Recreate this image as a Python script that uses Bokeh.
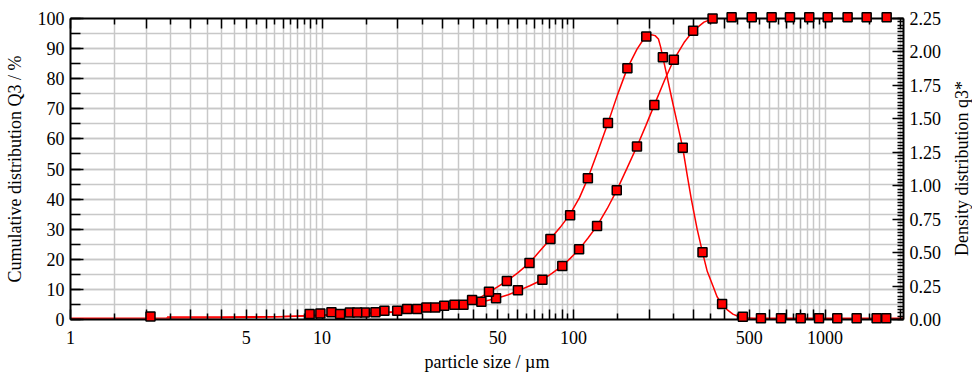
import math
from bokeh.plotting import figure
from bokeh.models import (FixedTicker, SingleIntervalTicker, LinearAxis, LogAxis,
                          Range1d, CustomJSTickFormatter, PrintfTickFormatter, Label)
from bokeh.embed import file_html
from bokeh.resources import INLINE

FONT = "Liberation Serif"

# ---------------- data ----------------
# cumulative distribution Q3 (%) markers
q3_x = [2.08, 8.93, 10.9, 12.9, 14.8, 17.7, 21.8, 26.0, 30.6, 36.5, 43.0, 49.2, 60.1,
        75.2, 90.2, 105.2, 124, 148.5, 178.7, 209.5, 250.4, 298.8, 357, 425, 511, 613,
        725, 865, 1024, 1229, 1463, 1757]
q3_val = [1.0, 1.8, 2.4, 2.3, 2.3, 2.9, 3.5, 4.0, 4.6, 4.9, 5.9, 7.1, 9.7,
          13.2, 17.8, 23.3, 31.1, 42.9, 57.5, 71.3, 86.3, 95.9, 100.0, 100.4, 100.4, 100.4,
          100.4, 100.4, 100.4, 100.4, 100.4, 100.4]

# density distribution q3* markers
dens_x = [9.85, 11.8, 13.8, 16.3, 19.9, 23.9, 28.2, 33.6, 39.5, 46.1, 54.3, 66.8, 80.9,
          96.9, 114, 137, 163.7, 194.6, 226.5, 271.7, 325.6, 389.6, 471, 556, 668, 800,
          946, 1118, 1335, 1603, 1750]
dens_val = [0.045, 0.041, 0.052, 0.054, 0.065, 0.079, 0.090, 0.110, 0.146, 0.207, 0.288,
            0.423, 0.601, 0.779, 1.055, 1.469, 1.879, 2.115, 1.960, 1.283, 0.502, 0.115,
            0.020, 0.009, 0.009, 0.009, 0.009, 0.009, 0.009, 0.009, 0.009]

# fitted curve of Q3 (%), as traced
q3_line_x = [2.42, 4, 7, 10, 15, 20, 25, 30, 35, 40, 45, 49.2, 55, 60.1, 67, 75.2, 82,
             90.2, 97, 105.2, 114, 124, 136, 148.5, 163, 178.7, 194, 209.5, 230, 250.4,
             275, 298.8, 330, 357, 400, 2050]
q3_line_val = [0.8, 0.8, 1.0, 1.4, 2.0, 2.6, 3.2, 3.9, 4.6, 5.3, 6.2, 7.0, 8.2, 9.5, 11.2,
               13.2, 15.3, 17.8, 20.3, 23.3, 27.0, 31.1, 36.8, 42.9, 50.2, 57.5, 64.5,
               71.3, 79.5, 86.3, 92.0, 95.9, 98.8, 99.9, 100.3, 100.3]

# fitted curve of q3*, as traced
dens_line_x = [1.0, 2.4, 4.0, 6.0, 8.0, 10, 15, 20, 25, 30, 35, 40, 46.1, 54.3, 60, 66.8,
               73, 80.9, 88.5, 96.9, 105.6, 114, 125, 137, 149.6, 163.7, 178.8, 190, 197,
               204, 211, 217.5, 222, 226.5, 235, 245.6, 258, 271.7, 283, 294, 310, 325.6,
               340, 358, 372, 389.6, 410, 430, 450, 470, 520, 2050]
dens_line_val = [0.009, 0.011, 0.014, 0.018, 0.025, 0.032, 0.045, 0.056, 0.070, 0.086,
                 0.106, 0.135, 0.203, 0.288, 0.349, 0.423, 0.506, 0.601, 0.689, 0.788,
                 0.911, 1.055, 1.260, 1.469, 1.681, 1.879, 2.021, 2.097, 2.122, 2.129,
                 2.122, 2.097, 2.036, 1.960, 1.823, 1.654, 1.474, 1.283, 1.080, 0.898,
                 0.675, 0.502, 0.360, 0.252, 0.170, 0.115, 0.070, 0.040, 0.024, 0.014,
                 0.009, 0.009]

# axis ticks
x_major_ticks = [1, 2, 3, 4, 5, 6, 7, 8, 9, 10, 20, 30, 40, 50, 60, 70, 80, 90,
                 100, 200, 300, 400, 500, 600, 700, 800, 900, 1000, 2000]
x_minor_ticks = [1.5, 2.5, 3.5, 4.5, 5.5, 6.5, 7.5, 8.5, 9.5,
                 15, 25, 35, 45, 55, 65, 75, 85, 95,
                 150, 250, 350, 450, 550, 650, 750, 850, 950, 1500]
x_labeled = [1, 5, 10, 50, 100, 500, 1000]

# ---------------- figure ----------------
W, H = 972, 374
ML, MR, MT, MB = 70, 69, 18, 54
p = figure(width=W, height=H, x_axis_type="log",
           x_range=Range1d(1, 2050), y_range=Range1d(0, 100),
           output_backend="svg", toolbar_location=None,
           min_border_left=ML, min_border_right=MR, min_border_top=MT,
           min_border_bottom=MB,
           x_axis_label="particle size / µm",
           y_axis_label="Cumulative distribution Q3 / %")
p.extra_y_ranges = {"q3": Range1d(0, 2.25)}
p.outline_line_color = None
p.background_fill_color = "white"
p.border_fill_color = "white"

xt = FixedTicker(ticks=x_major_ticks, minor_ticks=x_minor_ticks)
xfmt = CustomJSTickFormatter(args=dict(lab=x_labeled),
                             code="return lab.includes(tick) ? String(tick) : '';")
yt = SingleIntervalTicker(interval=10, num_minor_ticks=2)


def style(ax, tin, minin):
    ax.axis_line_width = 2
    ax.axis_line_color = "black"
    ax.major_tick_in = tin
    ax.major_tick_out = 0
    ax.minor_tick_in = minin
    ax.minor_tick_out = 0
    ax.major_tick_line_width = 1.5
    ax.minor_tick_line_width = 1.5
    ax.major_tick_line_color = "black"
    ax.minor_tick_line_color = "black"
    ax.major_label_text_font = FONT
    ax.major_label_text_font_size = "18px"
    ax.major_label_text_color = "black"
    ax.axis_label_text_font = FONT
    ax.axis_label_text_font_size = "18px"
    ax.axis_label_text_font_style = "normal"
    ax.axis_label_text_color = "black"


xa = p.xaxis[0]
xa.ticker = xt
xa.formatter = xfmt
style(xa, 10, 6)
xa.major_label_standoff = 11
xa.axis_label_standoff = 5

ya = p.yaxis[0]
ya.ticker = yt
style(ya, 13, 10)
ya.major_label_standoff = 6
ya.axis_label_standoff = 10

top = LogAxis(ticker=xt, formatter=CustomJSTickFormatter(code="return '';"))
style(top, 10, 6)
top.major_label_text_font_size = "1px"
top.major_label_standoff = 0
p.add_layout(top, "above")

right = LinearAxis(y_range_name="q3",
                   ticker=SingleIntervalTicker(interval=0.25, num_minor_ticks=10),
                   formatter=PrintfTickFormatter(format="%.2f"))
style(right, 11, 6)
right.major_label_standoff = 6
p.add_layout(right, "right")

# right-hand axis title, reading bottom-to-top like the left one
frame_h = H - MT - MB
p.add_layout(Label(x=17, y=frame_h / 2, x_units="screen", y_units="screen",
                   text="Density distribution q3*", angle=math.pi / 2,
                   text_align="center", text_baseline="middle",
                   text_font=FONT, text_font_size="18px", text_color="black"),
             "right")

for g in (p.xgrid[0], p.ygrid[0]):
    g.grid_line_color = "#c8c8c8"
    g.grid_line_width = 1.5
    g.minor_grid_line_color = "#c8c8c8"
    g.minor_grid_line_width = 1.5
p.xgrid[0].ticker = xt
p.ygrid[0].ticker = yt

# curves
p.line(q3_line_x, q3_line_val, line_color="red", line_width=1.5)
p.line(dens_line_x, dens_line_val, line_color="red", line_width=1.5, y_range_name="q3")

# markers
r1 = p.scatter(q3_x, q3_val, marker="square", size=9, fill_color="red",
               line_color="black", line_width=1.5)
r2 = p.scatter(dens_x, dens_val, marker="square", size=9, fill_color="red",
               line_color="black", line_width=1.5, y_range_name="q3")
r1.level = "overlay"
r2.level = "overlay"

open("out.html", "w").write(file_html(p, INLINE))
